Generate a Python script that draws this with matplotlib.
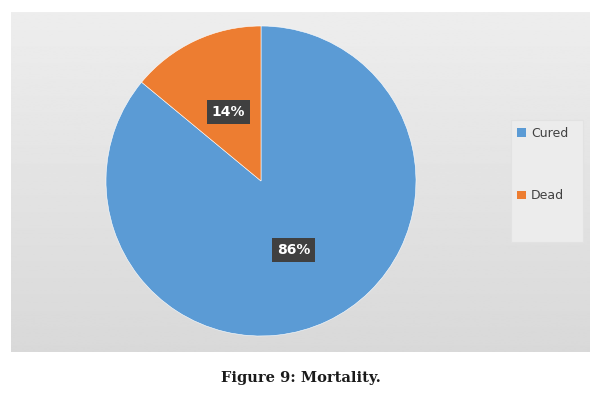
import numpy as np
import matplotlib
matplotlib.use("Agg")
import matplotlib.pyplot as plt
from matplotlib.patches import Patch, Rectangle

labels = ["Cured", "Dead"]
values = [86, 14]
colors = ["#5B9BD5", "#ED7D31"]
caption = "Figure 9: Mortality."

W, H = 603, 395
fig = plt.figure(figsize=(W / 100, H / 100), dpi=100)
fig.patch.set_facecolor("white")

# grey chart area with a soft vertical gradient
bg = fig.add_axes([11 / W, (H - 352) / H, (590 - 11) / W, (352 - 12) / H])
grad = np.linspace(0.93, 0.85, 256).reshape(-1, 1)
bg.imshow(grad, aspect="auto", cmap="gray", vmin=0, vmax=1, extent=[0, 1, 0, 1])
bg.set_axis_off()

# pie
cx, cy, r = 261, 181, 155
ax = fig.add_axes([(cx - r) / W, (H - cy - r) / H, 2 * r / W, 2 * r / H])
wedges, texts, autotexts = ax.pie(
    values, colors=colors, startangle=90, counterclock=False,
    autopct="%1.0f%%", pctdistance=0.49,
    wedgeprops=dict(edgecolor="white", linewidth=0.4),
    textprops=dict(color="white", fontsize=10, fontweight="bold"))
for t in autotexts:
    t.set_bbox(dict(boxstyle="square,pad=0.35", facecolor="#404040", edgecolor="none"))
ax.set_xlim(-1, 1)
ax.set_ylim(-1, 1)
ax.set_aspect("equal")
ax.set_axis_off()

# legend box
fig.patches.append(Rectangle((511 / W, (H - 242) / H), 72 / W, 122 / H,
                             transform=fig.transFigure, facecolor="#ececec",
                             edgecolor="#e2e2e2", linewidth=0.8, zorder=1))
handles = [Patch(facecolor=c, edgecolor="none") for c in colors]
leg = fig.legend(handles, labels, loc="upper left",
                 bbox_to_anchor=(517 / W, (H - 127) / H),
                 frameon=False, fontsize=9, labelspacing=3.95,
                 handlelength=0.7, handleheight=0.7, handletextpad=0.4,
                 borderpad=0.0, borderaxespad=0.0)
for t in leg.get_texts():
    t.set_color("#404040")

fig.text(301 / W, (H - 378) / H, caption, ha="center", va="center",
         fontsize=10.5, fontweight="bold", family="DejaVu Serif", color="#1a1a1a")

fig.savefig("out.png", dpi=100)
